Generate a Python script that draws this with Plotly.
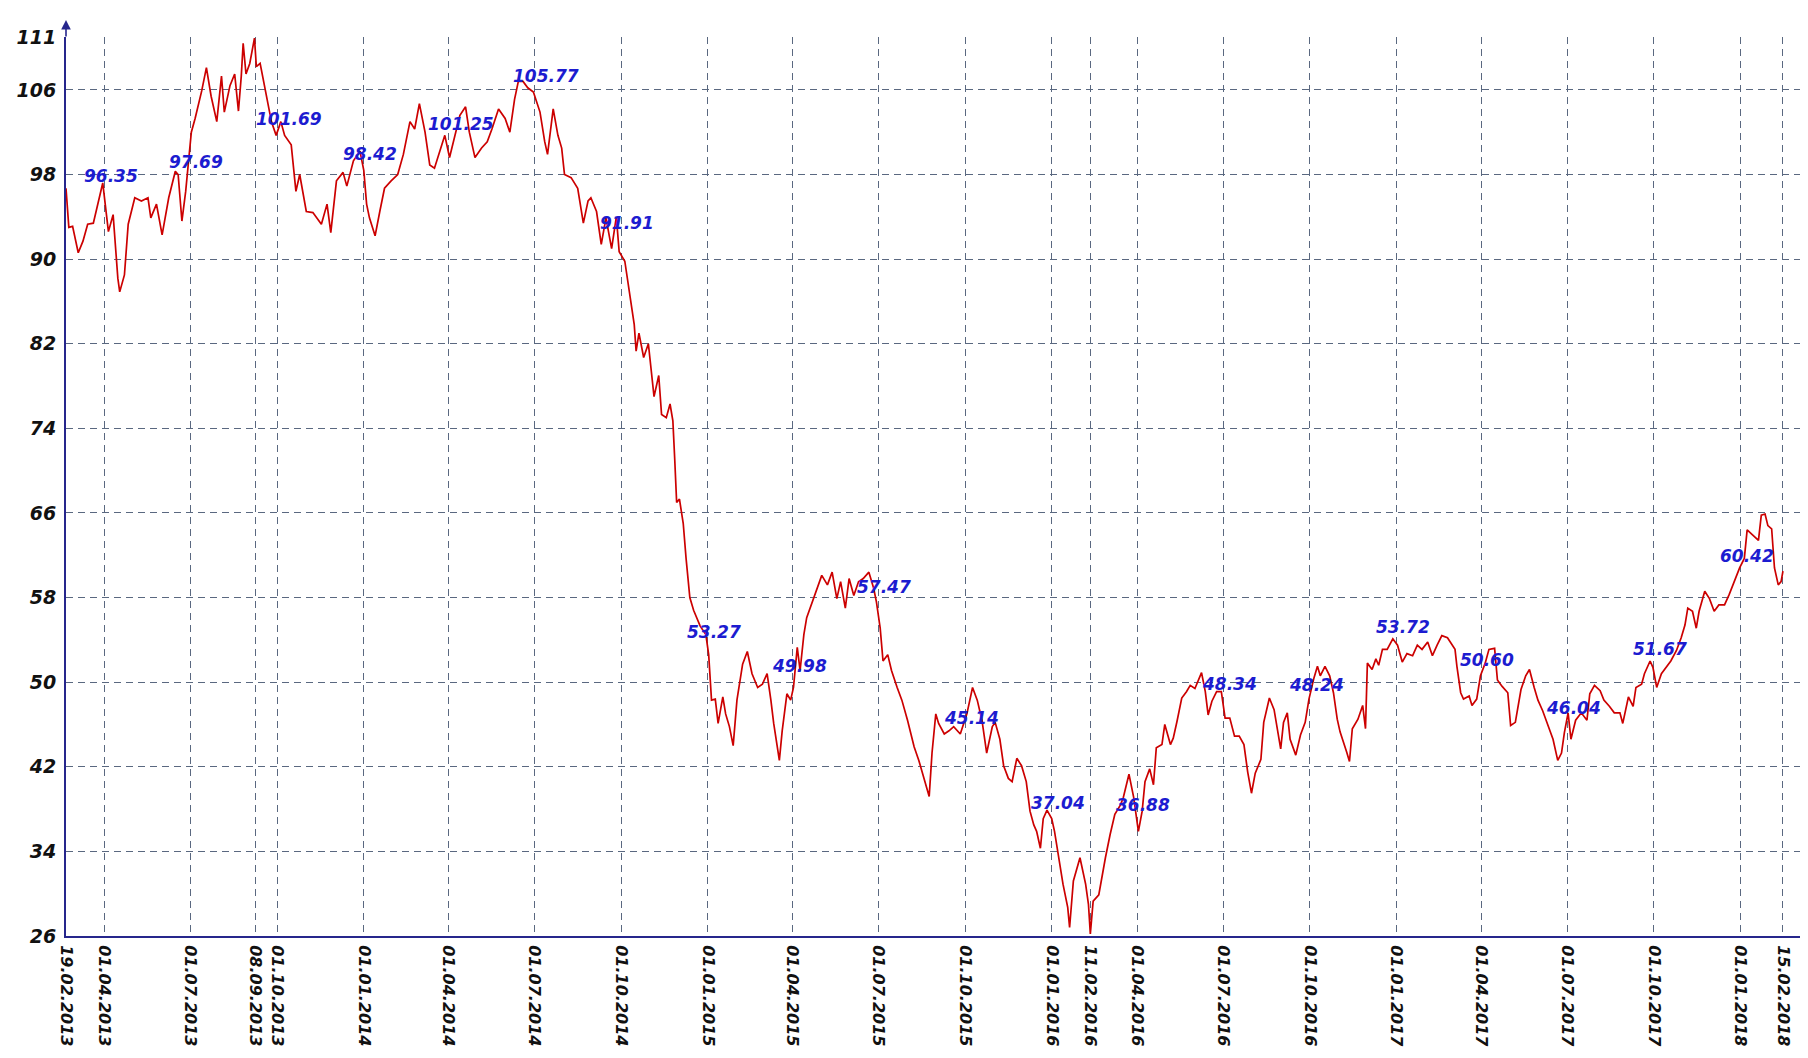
import pandas as pd
import plotly.graph_objects as go

START = "2013-02-19"

# Price series: day offset from 19.02.2013 and price
price_days = [
    0, 3, 7, 13, 18, 23, 29, 34, 39, 45, 50, 55, 57, 62, 66, 73, 80, 87, 90, 96,
    102, 109, 116, 119, 123, 127, 133, 137, 144, 149, 154, 160, 165, 168, 174, 179, 183, 186, 188, 191,
    195, 200, 202, 206, 209, 213, 218, 223, 228, 232, 239, 244, 248, 255, 262, 271, 277, 281, 287, 294,
    298, 305, 312, 316, 319, 322, 328, 333, 338, 345, 352, 358, 365, 370, 375, 381, 386, 391, 396, 402,
    407, 412, 418, 424, 428, 434, 441, 447, 452, 459, 466, 471, 476, 480, 485, 490, 496, 503, 508, 511,
    517, 522, 526, 529, 536, 543, 549, 554, 557, 563, 568, 573, 579, 584, 587, 593, 596, 600, 603, 605,
    608, 613, 618, 624, 629, 632, 637, 641, 644, 646, 648, 651, 655, 658, 662, 666, 673, 679, 682, 685,
    689, 692, 697, 700, 704, 708, 712, 718, 723, 728, 734, 739, 744, 748, 751, 757, 760, 765, 769, 772,
    776, 779, 783, 786, 792, 797, 802, 808, 813, 818, 822, 827, 831, 836, 841, 846, 852, 857, 860, 864,
    867, 872, 876, 882, 887, 893, 900, 905, 910, 916, 919, 923, 926, 932, 937, 942, 949, 956, 962, 967,
    972, 977, 983, 986, 991, 995, 1000, 1004, 1009, 1014, 1019, 1023, 1027, 1030, 1034, 1037, 1041, 1046, 1049, 1053,
    1058, 1063, 1065, 1069, 1072, 1076, 1082, 1085, 1087, 1090, 1096, 1099, 1103, 1108, 1113, 1119, 1122, 1128, 1133, 1138,
    1142, 1145, 1150, 1154, 1157, 1163, 1166, 1172, 1175, 1179, 1184, 1189, 1193, 1198, 1202, 1205, 1209, 1212, 1216, 1221,
    1226, 1230, 1235, 1240, 1245, 1250, 1254, 1258, 1262, 1268, 1271, 1277, 1282, 1285, 1289, 1292, 1296, 1299, 1305, 1310,
    1315, 1319, 1324, 1328, 1331, 1336, 1341, 1345, 1349, 1352, 1356, 1359, 1362, 1365, 1371, 1376, 1379, 1381, 1386, 1390,
    1393, 1397, 1402, 1408, 1413, 1418, 1423, 1429, 1434, 1439, 1445, 1450, 1455, 1460, 1466, 1471, 1474, 1476, 1480, 1483,
    1489, 1492, 1497, 1501, 1506, 1510, 1516, 1519, 1524, 1530, 1533, 1538, 1544, 1549, 1553, 1558, 1562, 1567, 1572, 1578,
    1583, 1587, 1590, 1594, 1597, 1602, 1608, 1614, 1617, 1622, 1628, 1632, 1638, 1643, 1649, 1652, 1658, 1663, 1666, 1672,
    1675, 1681, 1684, 1688, 1693, 1698, 1703, 1709, 1714, 1718, 1721, 1726, 1730, 1733, 1739, 1744, 1749, 1754, 1760, 1765,
    1770, 1776, 1781, 1784, 1790, 1796, 1799, 1803, 1806, 1810, 1813, 1817, 1820, 1822,
]
price_values = [
    96.7, 93.0, 93.1, 90.6, 91.7, 93.3, 93.4, 95.2, 97.2, 92.6, 94.2, 88.2, 86.9, 88.5, 93.3, 95.8, 95.5, 95.8, 93.9, 95.2,
    92.3, 95.8, 98.3, 98.0, 93.6, 96.4, 102.0, 103.3, 105.9, 108.1, 105.4, 103.0, 107.3, 103.9, 106.4, 107.5, 104.0, 107.3, 110.4, 107.5,
    108.5, 110.9, 108.2, 108.5, 107.1, 105.4, 103.0, 101.7, 103.0, 101.7, 100.8, 96.4, 98.0, 94.5, 94.4, 93.3, 95.2, 92.5, 97.4, 98.2,
    96.9, 99.3, 100.2, 98.4, 95.2, 93.9, 92.2, 94.5, 96.7, 97.4, 98.0, 99.9, 103.0, 102.3, 104.7, 102.0, 98.9, 98.6, 100.0, 101.7,
    99.6, 101.4, 103.6, 104.4, 102.0, 99.6, 100.5, 101.1, 102.3, 104.2, 103.3, 102.0, 105.1, 106.8, 106.8, 106.2, 105.8, 103.9, 101.1, 99.9,
    104.2, 101.7, 100.5, 98.0, 97.7, 96.7, 93.4, 95.5, 95.8, 94.5, 91.4, 93.9, 91.0, 94.0, 90.7, 89.8, 87.9, 85.7, 83.8, 81.3,
    83.0, 80.7, 82.0, 77.0, 79.0, 75.3, 75.0, 76.3, 74.7, 71.0, 67.0, 67.3, 65.0, 61.7, 58.0, 56.8, 55.3, 54.5, 52.6, 48.3,
    48.4, 46.1, 48.6, 47.0, 45.8, 44.0, 48.3, 51.7, 52.9, 50.8, 49.5, 49.8, 50.8, 48.3, 46.1, 42.6, 45.4, 48.9, 48.3, 49.5,
    53.3, 51.1, 54.5, 56.1, 57.6, 58.9, 60.1, 59.2, 60.4, 57.9, 59.5, 57.0, 59.8, 58.2, 59.5, 59.8, 60.4, 58.9, 57.6, 55.1,
    52.0, 52.6, 51.1, 49.5, 48.3, 46.4, 43.9, 42.6, 41.1, 39.2, 43.3, 47.0, 46.1, 45.1, 45.4, 45.8, 45.1, 47.0, 49.5, 48.3,
    46.4, 43.3, 45.8, 46.2, 44.6, 42.1, 40.9, 40.6, 42.8, 42.1, 40.6, 37.8, 36.5, 35.9, 34.3, 37.1, 37.9, 37.1, 35.9, 33.7,
    30.9, 28.7, 26.8, 31.2, 32.1, 33.4, 30.9, 29.0, 26.2, 29.3, 29.9, 31.5, 33.4, 35.6, 37.5, 38.4, 39.1, 41.3, 39.1, 35.9,
    37.8, 40.6, 41.8, 40.3, 43.8, 44.1, 46.0, 44.1, 44.7, 46.3, 48.5, 49.1, 49.7, 49.4, 50.3, 50.9, 49.1, 46.9, 48.2, 49.1,
    49.1, 46.6, 46.6, 44.9, 44.9, 44.1, 41.5, 39.5, 41.4, 42.7, 46.2, 48.5, 47.4, 45.9, 43.7, 46.2, 47.1, 44.6, 43.1, 45.0,
    46.2, 48.4, 50.3, 51.5, 50.6, 51.5, 50.6, 49.0, 46.5, 45.3, 44.3, 43.4, 42.5, 45.6, 46.5, 47.8, 45.6, 51.8, 51.2, 52.2,
    51.6, 53.1, 53.1, 54.1, 53.5, 51.9, 52.7, 52.5, 53.5, 53.1, 53.8, 52.5, 53.5, 54.4, 54.2, 53.5, 53.1, 51.5, 49.0, 48.4,
    48.7, 47.8, 48.4, 50.6, 51.8, 53.1, 53.2, 50.2, 49.6, 49.0, 45.9, 46.2, 49.3, 50.6, 51.2, 49.5, 48.3, 47.3, 46.1, 44.6,
    42.6, 43.3, 45.2, 47.1, 44.6, 46.4, 47.1, 46.4, 48.9, 49.7, 49.2, 48.3, 47.7, 47.1, 47.1, 46.1, 48.6, 47.7, 49.5, 49.8,
    50.8, 52.0, 51.4, 49.5, 50.8, 51.4, 52.0, 53.0, 54.2, 55.4, 57.0, 56.7, 55.1, 56.7, 58.6, 57.9, 56.7, 57.3, 57.3, 58.3,
    59.5, 60.8, 61.7, 64.4, 63.9, 63.4, 65.8, 65.9, 64.8, 64.5, 60.8, 59.2, 59.5, 60.5,
]

tick_dates = [
    "2013-02-19", "2013-04-01", "2013-07-01", "2013-09-08", "2013-10-01", "2014-01-01",
    "2014-04-01", "2014-07-01", "2014-10-01", "2015-01-01", "2015-04-01", "2015-07-01",
    "2015-10-01", "2016-01-01", "2016-02-11", "2016-04-01", "2016-07-01", "2016-10-01",
    "2017-01-01", "2017-04-01", "2017-07-01", "2017-10-01", "2018-01-01", "2018-02-15",
]
y_ticks = [26, 34, 42, 50, 58, 66, 74, 82, 90, 98, 106, 111]

label_dates = [
    "2013-04-01", "2013-07-01", "2013-10-01", "2014-01-01", "2014-04-01", "2014-07-01",
    "2014-10-01", "2015-01-01", "2015-04-01", "2015-07-01", "2015-10-01", "2016-01-01",
    "2016-04-01", "2016-07-01", "2016-10-01", "2017-01-01", "2017-04-01", "2017-07-01",
    "2017-10-01", "2018-01-01",
]
label_values = [
    96.35, 97.69, 101.69, 98.42, 101.25, 105.77, 91.91, 53.27, 49.98, 57.47,
    45.14, 37.04, 36.88, 48.34, 48.24, 53.72, 50.60, 46.04, 51.67, 60.42,
]

AXIS = "#26268c"
GRID = "#5a6880"
FONT = "DejaVu Sans"

dates = pd.Timestamp(START) + pd.to_timedelta(price_days, unit="D")
tick_text = [pd.Timestamp(d).strftime("%d.%m.%Y") for d in tick_dates]

fig = go.Figure()
fig.add_trace(go.Scatter(
    x=dates, y=price_values, mode="lines",
    line=dict(color="#cc0000", width=1.7),
    hoverinfo="skip", showlegend=False,
))

annotations = []
for d, v in zip(label_dates, label_values):
    annotations.append(dict(
        x=d, y=v, xref="x", yref="y", text=f"{v:.2f}", showarrow=False,
        xanchor="left", yanchor="bottom", xshift=-23, yshift=4,
        font=dict(family=FONT, size=17, color="#1c1cd0", weight="bold", style="italic"),
    ))

# axis arrows
annotations.append(dict(
    x=0, y=1 + 17 / 899, xref="paper", yref="paper", text="", showarrow=True,
    ax=0, ay=18, axref="pixel", ayref="pixel", arrowhead=2, arrowsize=1.2,
    arrowwidth=1.6, arrowcolor=AXIS, standoff=0, startstandoff=0,
))
annotations.append(dict(
    x=1, y=0, xref="paper", yref="paper", text="", showarrow=True,
    ax=-14, ay=0, axref="pixel", ayref="pixel", arrowhead=2, arrowsize=1.2,
    arrowwidth=1.6, arrowcolor=AXIS, standoff=0, startstandoff=0,
))

fig.update_layout(
    width=1808, height=1058,
    margin=dict(l=58, r=1, t=29, b=130),
    paper_bgcolor="white", plot_bgcolor="white",
    annotations=annotations,
    xaxis=dict(
        type="date", range=["2013-02-19", "2018-03-21"],
        tickmode="array", tickvals=tick_dates, ticktext=tick_text, tickangle=90,
        tickfont=dict(family=FONT, size=16, color="#111111", weight="bold", style="italic"),
        showgrid=True, gridcolor=GRID, gridwidth=1, griddash="7px,5px",
        showline=True, linecolor=AXIS, linewidth=2, zeroline=False, ticks="",
        ticklabelstandoff=4,
    ),
    yaxis=dict(
        range=[26, 111], tickmode="array", tickvals=y_ticks,
        tickfont=dict(family=FONT, size=19, color="#111111", weight="bold", style="italic"),
        showgrid=True, gridcolor=GRID, gridwidth=1, griddash="7px,5px",
        showline=True, linecolor=AXIS, linewidth=2, zeroline=False, ticks="",
        ticklabelstandoff=4,
    ),
)

fig.write_html("out.html")
